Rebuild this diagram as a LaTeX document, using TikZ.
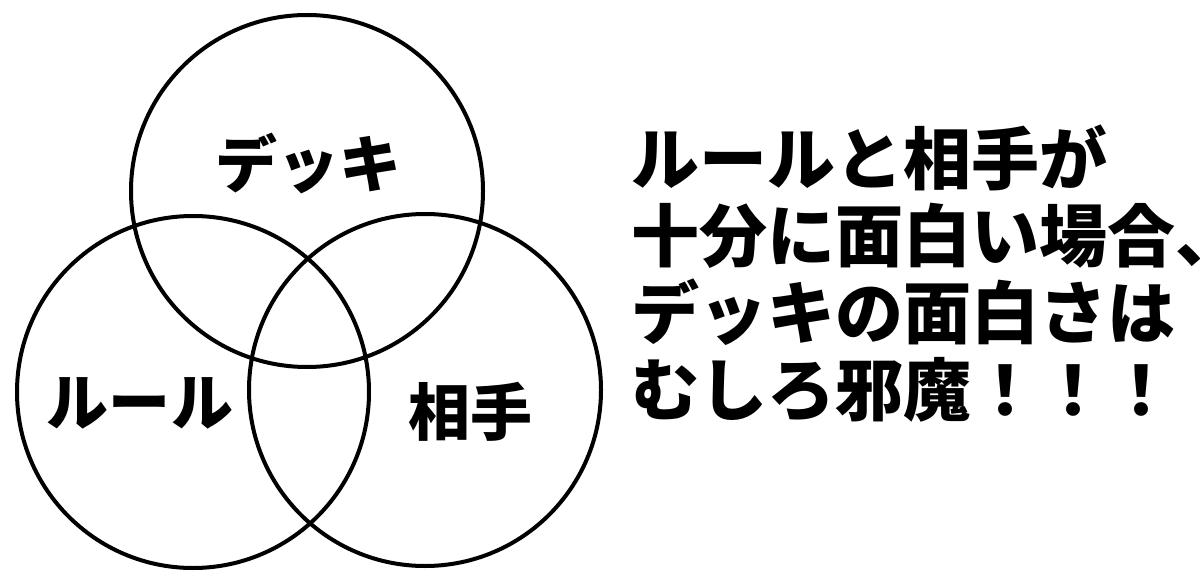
\documentclass[tikz,border=0pt]{standalone}
\usepackage{fontspec}
\newfontfamily\cjk{Noto Sans CJK JP}
\begin{document}
\begin{tikzpicture}[x=1bp,y=-1bp,
  venn/.style={draw=black,line width=4bp},
  lbl/.style={font=\cjk\bfseries\fontsize{62bp}{70bp}\selectfont,inner sep=0pt,text height=0.83em,text depth=0.07em},
  msg/.style={font=\cjk\bfseries\fontsize{68bp}{77bp}\selectfont,inner sep=0pt,anchor=west,text height=0.83em,text depth=0.07em}]
\useasboundingbox (0,0) rectangle (1200,576);
\fill[white] (0,0) rectangle (1200,576);
\node[venn,circle,minimum size=352bp,inner sep=0pt] (deck) at (307,191) {};
\node[venn,circle,minimum size=352bp,inner sep=0pt] (rule) at (193,392) {};
\node[venn,circle,minimum size=352bp,inner sep=0pt] (opp) at (425,390) {};
\node[lbl] (tdeck) at (308,184) {デッキ};
\node[lbl] (trule) at (140,422) {ルール};
\node[lbl] (topp) at (470,432) {相手};
\node[msg] (m1) at (631,181) {ルールと相手が};
\node[msg] (m2) at (631,258) {十分に面白い場合、};
\node[msg] (m3) at (631,335) {デッキの面白さは};
\node[msg] (m4) at (631,412) {むしろ邪魔！！！};
\end{tikzpicture}
\end{document}
